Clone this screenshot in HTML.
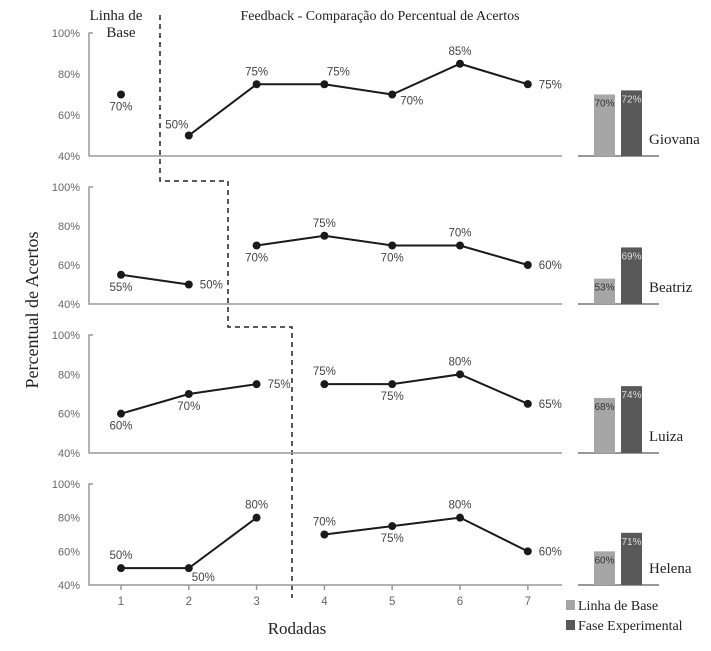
<!DOCTYPE html>
<html><head><meta charset="utf-8"><style>
body{margin:0;background:#fff;}
svg{display:block;font-family:"Liberation Sans",sans-serif;}
.serif{font-family:"Liberation Serif",serif;}
</style></head><body>
<svg id="chart" width="711" height="651" viewBox="0 0 711 651">
<text class="serif" x="116" y="20" font-size="15" text-anchor="middle" fill="#222">Linha de</text>
<text class="serif" x="121" y="37" font-size="15" text-anchor="middle" fill="#222">Base</text>
<text class="serif" x="380" y="20" font-size="14" text-anchor="middle" fill="#222">Feedback - Comparação do Percentual de Acertos</text>
<text class="serif" x="0" y="0" font-size="18" text-anchor="middle" fill="#222" transform="translate(38,310) rotate(-90)">Percentual de Acertos</text>
<text class="serif" x="297" y="634" font-size="17" text-anchor="middle" fill="#222">Rodadas</text>
<polyline points="160,15 160,181 228,181 228,327 292,327 292,598" fill="none" stroke="#222" stroke-width="1.5" stroke-dasharray="5,4"/>
<rect x="566" y="600" width="9" height="10" fill="#a6a6a6"/>
<text class="serif" x="578" y="610" font-size="14" fill="#222">Linha de Base</text>
<rect x="566" y="620" width="9" height="10" fill="#595959"/>
<text class="serif" x="578" y="630" font-size="14" fill="#222">Fase Experimental</text>
</svg>
<script>
const participants = ["Giovana","Beatriz","Luiza","Helena"];
const rounds = [1,2,3,4,5,6,7];
const yTicks = [40,60,80,100];
const baselineValues = [[70],[55,50],[60,70,75],[50,50,80]];
const experimentalValues = [[50,75,75,70,85,75],[70,75,70,70,60],[75,75,80,65],[70,75,80,60]];
const barBaseline = [70,53,68,60];
const barExperimental = [72,69,74,71];
const labelPos = [["b","al","a","ar","rb","a","r"],["b","r","b","a","b","a","r"],["b","b","r","a","b","a","r"],["a","br","a","a","b","a","r"]];

const svg = document.getElementById('chart');
const NS = "http://www.w3.org/2000/svg";
const panels = [{top:33,bot:156},{top:187,bot:304},{top:335,bot:453},{top:484,bot:585}];
const xScale = r => 121 + (r-1)*67.8;
function mk(tag, attrs){const e=document.createElementNS(NS,tag);for(const k in attrs)e.setAttribute(k,attrs[k]);svg.appendChild(e);return e;}

participants.forEach((name,p)=>{
  const P = panels[p];
  const yScale = v => P.bot - (v-40)/60*(P.bot-P.top);
  const ax = mk('polyline',{points:`93,${P.top} 89,${P.top} 89,${P.bot} 562,${P.bot}`,fill:'none',stroke:'#999','stroke-width':1.5});
  
  
  yTicks.forEach(t=>{
    const tx = mk('text',{x:80,y:yScale(t)+4,'font-size':11,'text-anchor':'end',fill:'#666'});
    tx.textContent = t+'%';
    
    
  });
  const nb = baselineValues[p].length;
  const all = baselineValues[p].concat(experimentalValues[p]);
  [baselineValues[p], experimentalValues[p]].forEach((arr,ph)=>{
    const start = ph===0 ? 1 : nb+1;
    if(arr.length>1){
      const ln = mk('polyline',{points:arr.map((v,i)=>xScale(start+i)+','+yScale(v)).join(' '),fill:'none',stroke:'#1a1a1a','stroke-width':2});
      
      
    }
  });
  all.forEach((v,i)=>{
    const x = xScale(i+1), y = yScale(v);
    const c = mk('circle',{cx:x,cy:y,r:4,fill:'#1a1a1a'});
    
    
    const pos = labelPos[p][i];
    let lx=x, ly=y, anc='middle';
    if(pos==='a'){ly=y-9;}
    else if(pos==='b'){ly=y+16;}
    else if(pos==='r'){lx=x+11;ly=y+4;anc='start';}
    else if(pos==='al'){lx=x-12;ly=y-7;}
    else if(pos==='ar'){lx=x+14;ly=y-9;}
    else if(pos==='rb'){lx=x+8;ly=y+10;anc='start';}
    else if(pos==='br'){lx=x+3;ly=y+13;anc='start';}
    const t = mk('text',{x:lx,y:ly,'font-size':11.5,'text-anchor':anc,fill:'#444'});
    t.textContent = v+'%';
    
    
  });
  const bl = mk('line',{x1:578,y1:P.bot,x2:659,y2:P.bot,stroke:'#777','stroke-width':1.5});
  
  
  [[barBaseline[p],594,'#a6a6a6','#333','baseline'],[barExperimental[p],621,'#595959','#ddd','experimental']].forEach(b=>{
    const top = yScale(b[0]);
    const r = mk('rect',{x:b[1],y:top,width:21,height:P.bot-top,fill:b[2]});
    
    
    const t = mk('text',{x:b[1]+10.5,y:top+12,'font-size':10,'text-anchor':'middle',fill:b[3]});
    t.textContent = b[0]+'%';
    
    
  });
  const nm = mk('text',{x:649,y:P.bot-12,'font-size':15,fill:'#222','font-family':'Liberation Serif, serif'});
  nm.textContent = name;
  
  
});
const bp = panels[3];
rounds.forEach(r=>{
  const tk = mk('line',{x1:xScale(r),y1:bp.bot,x2:xScale(r),y2:bp.bot+5,stroke:'#999','stroke-width':1.5});
  
  
  const t = mk('text',{x:xScale(r),y:bp.bot+20,'font-size':11.5,'text-anchor':'middle',fill:'#666'});
  t.textContent = r;
  
  
});
</script>
</body></html>
